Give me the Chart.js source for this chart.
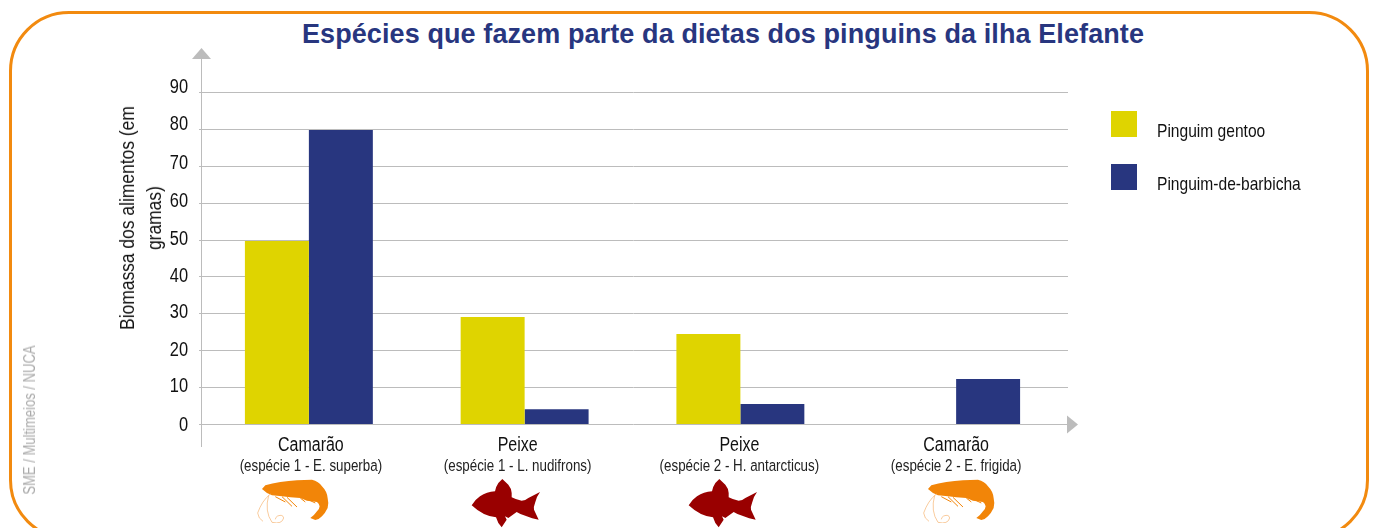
<!DOCTYPE html>
<html lang="pt"><head><meta charset="utf-8">
<script src="https://cdn.jsdelivr.net/npm/chart.js@4"></script>
<style>
html,body{margin:0;padding:0;background:#fff;overflow:hidden}
#page{position:relative;width:1375px;height:528px;overflow:hidden;font-family:"Liberation Sans",Arial,sans-serif}
#frame{position:absolute;left:9px;top:11px;width:1354px;height:523px;border:3px solid #f28a0f;border-radius:60px}
#title{position:absolute;left:0;top:19px;width:1446px;text-align:center;font-weight:bold;font-size:27px;letter-spacing:.1px;line-height:30px;color:#28367f;white-space:nowrap}
canvas{position:absolute;left:0;top:0}
#credit{position:absolute;left:30px;top:420px;transform:translate(-50%,-50%) rotate(-90deg) scaleX(.815);font-size:16px;color:#aaa;white-space:nowrap}
#ytitle{position:absolute;left:139.5px;top:218px;transform:translate(-50%,-50%) rotate(-90deg) scaleX(.83);font-size:21px;line-height:27px;color:#111;text-align:center;white-space:nowrap}
.lg{position:absolute;left:1111px;width:26px;height:26px}
.lt{position:absolute;left:1157px;font-size:19px;line-height:20px;color:#111;white-space:nowrap;transform:scaleX(.82);transform-origin:left center}
.icon{position:absolute}
</style></head><body>
<div id="page">
<div id="frame"></div>
<div id="title">Espécies que fazem parte da dietas dos pinguins da ilha Elefante</div>
<canvas id="c" width="1375" height="528"></canvas>
<div id="credit">SME / Multimeios / NUCA</div>
<div id="ytitle"></div>
<div id="legend"></div>
<div id="icons"></div>
</div>
<script>
const categories = ["Camarão","Peixe","Peixe","Camarão"];
const subLabels = ["(espécie 1 - E. superba)","(espécie 1 - L. nudifrons)","(espécie 2 - H. antarcticus)","(espécie 2 - E. frigida)"];
const gentoo = [49.6,29,24.4,0];
const barbicha = [79.7,4,5.4,12.2];
const seriesNames = ["Pinguim gentoo","Pinguim-de-barbicha"];
const yTitle = ["Biomassa dos alimentos (em","gramas)"];
const YELLOW="#dfd400", NAVY="#28367f", GREY="#bcbcbc";
const SANS='"Liberation Sans"';
// small label nudges seen in the reference
const xNudge=[2,-7,-1,0];
const yNudge=[1,-1,0,-1,0,0,-1,-2,-4,-5];
const CONDENSE=.82;

const axesPlugin={id:'axesPlugin',
 beforeDraw(ch){
  const {x,x2,y}=ch.scales;
  [[x,xNudge,0],[x2,xNudge,0],[y,yNudge,1]].forEach(([s,n,k])=>{
    s.getLabelItems().forEach((it,i)=>{
      if(it.done)return; it.done=true;
      it.options.translation=[...it.options.translation];
      it.options.translation[k]+=n[i];
    });
  });
  // the reference's axis labels are set in a condensed cut
  const ctx=ch.ctx, orig=ctx.fillText;
  ctx.fillText=function(t,px,py){
    this.save();this.translate(px,py);this.scale(CONDENSE,1);
    orig.call(this,t,0,0);this.restore();
  };
 },
 beforeDatasetsDraw(ch){
  const {ctx,chartArea:a,scales:{y}}=ch;
  ctx.save();ctx.strokeStyle=GREY;ctx.lineWidth=1;
  y.ticks.forEach(t=>{const p=Math.round(y.getPixelForValue(t.value))+.5;
    ctx.beginPath();ctx.moveTo(a.left-2,p);ctx.lineTo(a.right+4,p);ctx.stroke();});
  ctx.beginPath();ctx.moveTo(a.left+.5,a.top-34);ctx.lineTo(a.left+.5,a.bottom+23);ctx.stroke();
  ctx.fillStyle=GREY;
  ctx.beginPath();ctx.moveTo(a.left+.5,a.top-44);ctx.lineTo(a.left+10,a.top-33);ctx.lineTo(a.left-9,a.top-33);ctx.fill();
  const z=y.getPixelForValue(0)+.5;
  ctx.beginPath();ctx.moveTo(a.right+3,z-9);ctx.lineTo(a.right+14,z);ctx.lineTo(a.right+3,z+9);ctx.fill();
  ctx.restore();
 },
 afterDraw(ch){ delete ch.ctx.fillText; }
};

const chart=new Chart(document.getElementById('c'),{
 type:'bar',
 data:{labels:categories,datasets:[
  {label:seriesNames[0],data:gentoo,backgroundColor:YELLOW,xAxisID:'x'},
  {label:seriesNames[1],data:barbicha,backgroundColor:NAVY,xAxisID:'x'}]},
 options:{responsive:false,animation:false,
  layout:{padding:{left:115,right:311,top:92,bottom:49}},
  categoryPercentage:.593,barPercentage:1,
  plugins:{legend:{display:false},title:{display:false},tooltip:{enabled:false}},
  scales:{
   x:{type:'category',position:'bottom',grid:{display:false,tickLength:0},border:{display:false},
      ticks:{color:'#111',font:{family:SANS,size:19.5},padding:10,maxRotation:0,autoSkip:false},
      afterFit(s){s.height=33}},
   x2:{type:'category',position:'bottom',labels:subLabels,grid:{display:false,tickLength:0},border:{display:false},
      ticks:{color:'#222',font:{family:SANS,size:16.3},padding:0,maxRotation:0,autoSkip:false},
      afterFit(s){s.height=22}},
   y:{min:0,max:90,grid:{display:false},border:{display:false},
      ticks:{stepSize:10,color:'#111',font:{family:SANS,size:20},padding:5},
      afterFit(s){s.width=86}}
  }},
 plugins:[axesPlugin]
});

document.getElementById('ytitle').innerHTML=yTitle.join('<br>');

// legend from the chart's datasets
const legendEl=document.getElementById('legend');
const legendTops=[111,164];
chart.data.datasets.forEach((d,i)=>{
  legendEl.insertAdjacentHTML('beforeend',
   `<div class="lg" style="top:${legendTops[i]}px;background:${d.backgroundColor}"></div>`+
   `<div class="lt" style="top:${legendTops[i]+10}px">${d.label}</div>`);
});

// decorative silhouettes
const fish=`<svg class="icon" style="left:LEFTpx;top:478.3px" width="71.7" height="50" viewBox="660 10 215 150"><path fill="#990000" d="M665 92Q675 75 690 65Q710 52 735 50Q738 35 745 25L757 13L775 30Q785 42 785 55L785 68Q800 76 815 78Q826 78 835 70L870 52Q858 68 855 85Q850 98 852 105L866 135Q845 132 830 125Q812 120 800 112L775 130L765 125L770 135L755 158L745 145L738 128Q700 125 665 92Z"/></svg>`;
const shrimp=`<svg class="icon" style="left:LEFTpx;top:478.3px" width="73.3" height="45" viewBox="20 10 220 135"><path fill="#f28508" d="M35 43L45 32Q65 26 90 22Q115 19 140 17L185 15Q205 20 215 35Q230 50 232 70Q236 85 232 100Q225 115 215 125Q205 136 195 136L180 130Q192 122 200 110Q208 102 208 95Q206 86 200 82L170 78L150 70L120 68L95 65L65 62L50 55Z"/><g fill="none" stroke="#f28508" stroke-width="3"><path d="M75 66L105 82M95 66L125 95M110 68L140 97M150 70L165 82M180 78L195 85"/></g><g fill="none" stroke="#f7b878" stroke-width="2.2"><path d="M60 58Q35 78 22 115Q24 132 38 140M55 62Q42 110 65 143Q95 150 100 130Q98 118 82 124Q75 128 75 134"/></g></svg>`;
const icons=[[shrimp,256.7],[fish,470],[fish,687.3],[shrimp,922.7]];
document.getElementById('icons').innerHTML=icons.map(([s,l])=>s.replace('LEFT',l)).join('');
</script>
</body></html>
